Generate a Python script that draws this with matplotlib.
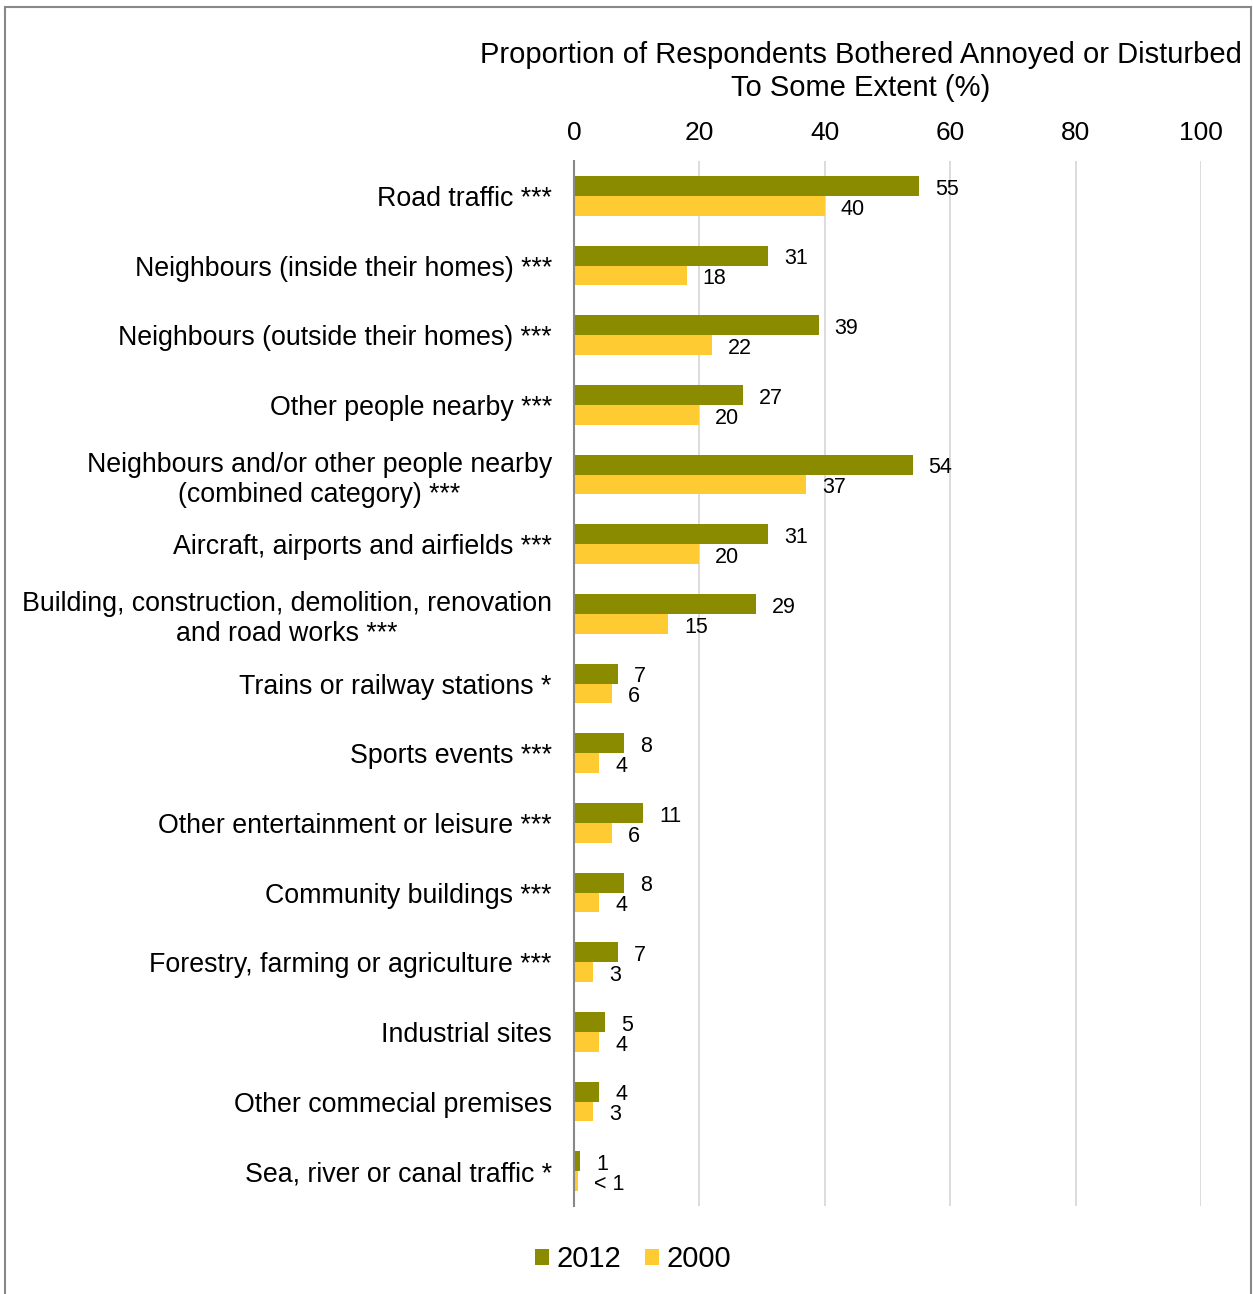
import matplotlib.pyplot as plt
import numpy as np
from matplotlib.patches import Rectangle

plt.rcParams['font.family'] = ['Liberation Sans', 'DejaVu Sans']

categories = [
    'Road traffic ***',
    'Neighbours (inside their homes) ***',
    'Neighbours (outside their homes) ***',
    'Other people nearby ***',
    'Neighbours and/or other people nearby\n(combined category) ***',
    'Aircraft, airports and airfields ***',
    'Building, construction, demolition, renovation\nand road works ***',
    'Trains or railway stations *',
    'Sports events ***',
    'Other entertainment or leisure ***',
    'Community buildings ***',
    'Forestry, farming or agriculture ***',
    'Industrial sites',
    'Other commecial premises',
    'Sea, river or canal traffic *',
]
vals_2012 = [55, 31, 39, 27, 54, 31, 29, 7, 8, 11, 8, 7, 5, 4, 1]
vals_2000 = [40, 18, 22, 20, 37, 20, 15, 6, 4, 6, 4, 3, 4, 3, 0.6]
labels_2012 = ['55', '31', '39', '27', '54', '31', '29', '7', '8', '11', '8', '7', '5', '4', '1']
labels_2000 = ['40', '18', '22', '20', '37', '20', '15', '6', '4', '6', '4', '3', '4', '3', '< 1']

col_2012 = '#8B8B00'
col_2000 = '#FFCB33'

W, H = 1253, 1294
fig = plt.figure(figsize=(W / 100, H / 100), dpi=100)
ax = fig.add_axes([574 / W, 1 - 1206 / H, (1201 - 574) / W, (1206 - 161) / H])

y = np.arange(len(categories))
h = 0.287
b1 = ax.barh(y - h / 2, vals_2012, height=h, color=col_2012, label='2012')
b2 = ax.barh(y + h / 2, vals_2000, height=h, color=col_2000, label='2000')

# value labels just right of each bar
for bars, labs in ((b1, labels_2012), (b2, labels_2000)):
    for bar, lab in zip(bars, labs):
        ax.annotate(lab, (bar.get_width(), bar.get_y() + bar.get_height() / 2),
                    xytext=(11.5, -2.5), textcoords='offset points',
                    ha='left', va='center', fontsize=15.5)

ax.set_xlim(0, 100)
ax.set_ylim(len(categories) - 0.5, -0.5)
ax.set_xticks(range(0, 101, 20))
ax.xaxis.tick_top()
ax.tick_params(axis='x', length=0, pad=11.5, labelsize=19)
ax.set_yticks(y)
ax.set_yticklabels(categories, fontsize=19.25)
ax.tick_params(axis='y', length=0, pad=16)
for lbl in ax.get_yticklabels():
    lbl.set_multialignment('center')

ax.grid(axis='x', color='#D9D9D9', linewidth=1.3)
ax.set_axisbelow(True)
for s in ('top', 'right', 'bottom'):
    ax.spines[s].set_visible(False)
ax.spines['left'].set_color('#888888')
ax.spines['left'].set_linewidth(1.5)
ax.spines['left'].set_zorder(3)

fig.text(861 / W, 1 - 71.5 / H,
         'Proportion of Respondents Bothered Annoyed or Disturbed\nTo Some Extent (%)',
         ha='center', va='center', fontsize=21, linespacing=1.22)

fig.legend(handles=[b1, b2], labels=['2012', '2000'], loc='center',
           bbox_to_anchor=(633 / W, 1 - 1259 / H), ncol=2, frameon=False,
           fontsize=21, handlelength=0.48, handleheight=0.48,
           handletextpad=0.25, columnspacing=0.8)

# outer chart border
fig.patches.append(Rectangle((5 / W, -0.01), (1251 - 5) / W, 1.01 - 7 / H,
                             transform=fig.transFigure, fill=False,
                             edgecolor='#888888', linewidth=1.5))

fig.savefig('out.png', dpi=100)
